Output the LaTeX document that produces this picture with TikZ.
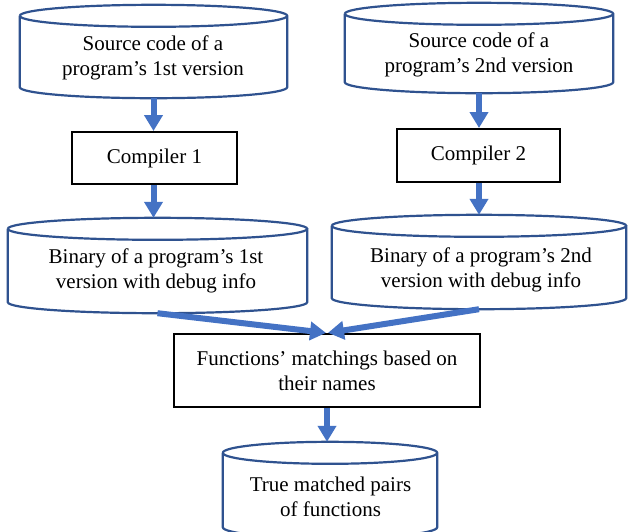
\documentclass[tikz,border=0pt]{standalone}
\usepackage{fontspec}
\setmainfont{Liberation Serif}
\usetikzlibrary{arrows.meta,calc}
\definecolor{cylblue}{HTML}{2F528F}
\definecolor{arrblue}{HTML}{4472C4}
\newcommand{\drawcyl}[2]{%
  \draw[cylline] let \p1=(#1.north west), \p2=(#1.south east), \p3=($(\p2)-(\p1)$) in
    (\x1,\y1-#2) -- (\x1,\y2+#2) arc[start angle=180,end angle=360,x radius=0.5*\x3,y radius=#2] -- (\x2,\y1-#2)
    (\x1,\y1-#2) arc[start angle=180,end angle=-180,x radius=0.5*\x3,y radius=#2];
}
\begin{document}
\begin{tikzpicture}[x=1pt,y=1pt,
  cylline/.style={draw=cylblue, line width=2.2pt},
  area/.style={draw=none, inner sep=0pt},
  txt/.style={align=center, font=\fontsize{21}{25}\selectfont, inner sep=0pt},
  procbox/.style={draw=black, line width=2pt, inner sep=0pt, font=\fontsize{21}{25}\selectfont, align=center},
  flow/.style={draw=arrblue, line width=6pt, -{Triangle[width=18pt,length=16pt]}}
]
\fill[white] (0,0) rectangle (628,-531);
\useasboundingbox (0,0) rectangle (628,-531);

% cylinders
\node[area, minimum width=267pt, minimum height=93pt] (s1) at (153.5,-51.5) {};
\node[area, minimum width=268pt, minimum height=90pt] (s2) at (479,-48) {};
\node[area, minimum width=299pt, minimum height=95pt] (b1) at (157.5,-265.5) {};
\node[area, minimum width=294pt, minimum height=94pt] (b2) at (479,-262) {};
\node[area, minimum width=214pt, minimum height=96pt] (t) at (330,-490) {};
\drawcyl{s1}{11pt}
\drawcyl{s2}{11pt}
\drawcyl{b1}{11pt}
\drawcyl{b2}{11pt}
\drawcyl{t}{11pt}

\node[txt] (s1t) at (153,-57.5) {Source code of a\\program’s 1st version};
\node[txt] (s2t) at (479,-54.5) {Source code of a\\program’s 2nd version};
\node[txt] (b1t) at (156,-270.5) {Binary of a program’s 1st\\version with debug info};
\node[txt] (b2t) at (481,-269.5) {Binary of a program’s 2nd\\version with debug info};
\node[txt] (tt) at (330.5,-496.5) {True matched pairs\\of functions};

% process boxes
\node[procbox, minimum width=165pt, minimum height=52pt] (c1) at (154.5,-158) {Compiler 1};
\node[procbox, minimum width=163pt, minimum height=53pt] (c2) at (478.5,-155.5) {Compiler 2};
\node[procbox, minimum width=306pt, minimum height=73pt] (f) at (327,-370.5) {Functions’ matchings based on\\their names};

% connectors
\draw[flow] (s1.south) -- (s1.south |- c1.north);
\draw[flow] (c1.south -| s1.south) -- (s1.south |- b1.north);
\draw[flow] (s2.south) -- (s2.south |- c2.north);
\draw[flow] (c2.south -| s2.south) -- (s2.south |- b2.north);
\draw[flow, shorten >=1pt] (b1.south) -- (f.north);
\draw[flow, shorten >=1pt] (b2.south) -- (f.north);
\draw[flow] (f.south) -- (f.south |- t.north);
\end{tikzpicture}
\end{document}
